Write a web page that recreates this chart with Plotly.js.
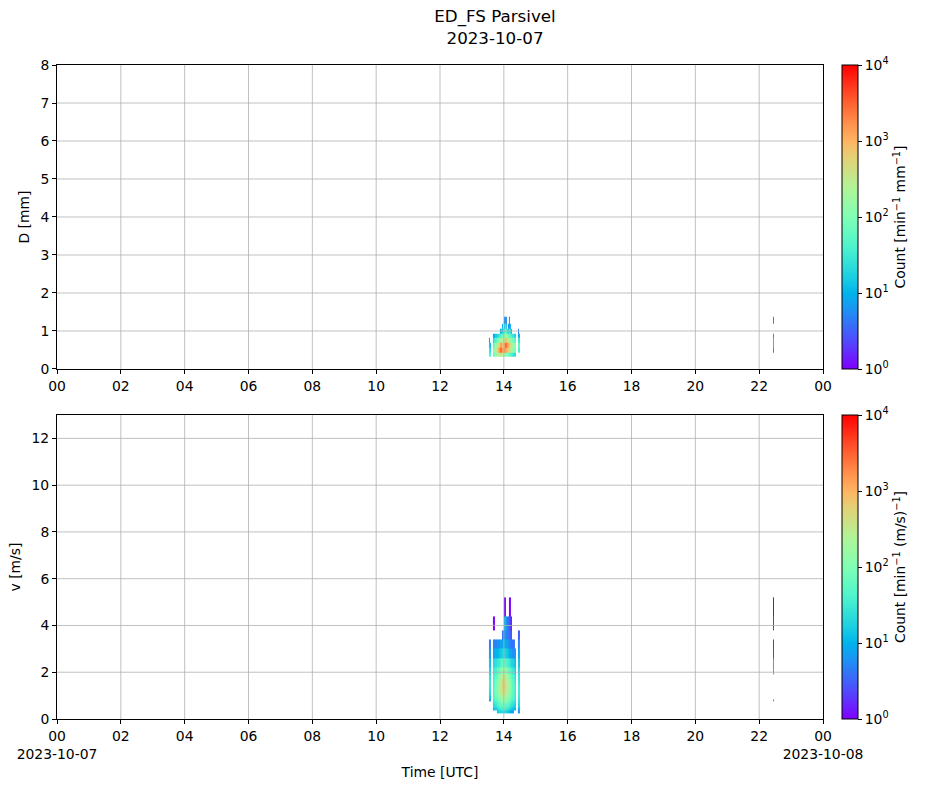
<!DOCTYPE html>
<html>
<head>
<meta charset="utf-8">
<script src="https://cdn.plot.ly/plotly-3.0.1.min.js"></script>
<style>html,body{margin:0;padding:0;background:#fff;}#chart{width:927px;height:788px;}</style>
</head>
<body>
<div id="chart"></div>
<script>
// ---------- DATA ----------
// time column edges (minutes after 2023-10-07 00:00 UTC)
const TIME_EDGES_MIN = [810,812,814,816,818,820,822,824,826,828,830,832,834,836,838,840,842,844,846,848,850,852,854,856,858,860,862,864,866,868,870];
const SPIKE_EDGES_MIN = [1346,1348];
// drop-size / velocity class edges as drawn
const D_EDGES = [0.312,0.437,0.562,0.687,0.812,0.937,1.062,1.187,1.375];
const V_EDGES = [0.05,0.15,0.25,0.35,0.45,0.55,0.65,0.75,0.85,0.95,1.1,1.3,1.5,1.7,1.9,2.2,2.6,3.0,3.4,3.8,4.4,5.2];
// counts per time column [min^-1 mm^-1], one row per column, one value per D cell
const D_COUNTS = [
  [0,0,0,0,0,0,0,0],
  [50,30,15,6,0,0,0,0],
  [40,20,10,0,0,0,0,0],
  [0,0,0,0,0,0,0,0],
  [0,0,0,0,0,0,0,0],
  [60,100,50,20,8,0,0,0],
  [80,150,80,30,10,0,0,0],
  [150,300,150,50,15,0,0,0],
  [200,500,250,80,20,0,0,0],
  [250,800,400,100,25,0,0,0],
  [300,1500,600,150,30,0,0,0],
  [400,3000,1200,200,40,10,0,0],
  [300,2500,1500,300,60,15,0,0],
  [250,1500,800,250,80,20,8,0],
  [200,1200,600,200,60,20,0,0],
  [150,1500,1200,300,100,40,15,5],
  [150,1500,3000,800,200,60,30,8],
  [100,1200,2500,600,150,40,15,6],
  [100,800,1500,400,100,30,0,0],
  [80,600,1200,300,80,20,6,0],
  [60,400,700,200,60,30,10,5],
  [50,300,500,150,50,25,8,0],
  [40,200,300,100,40,10,0,0],
  [30,150,200,80,30,0,0,0],
  [25,100,150,60,20,0,0,0],
  [20,80,100,40,15,0,0,0],
  [0,0,0,0,0,0,0,0],
  [0,0,0,0,0,0,0,0],
  [0,40,60,30,8,5,0,0],
  [0,30,40,20,6,0,0,0]
];
const D_SPIKE = [0,6,15,15,6,0,0,6];
// counts per time column [min^-1 (m/s)^-1], one value per velocity cell
const V_COUNTS = [
  [0,0,0,0,0,0,0,0,0,0,0,0,0,0,0,0,0,0,0,0,0],
  [0,0,0,0,0,0,0,8,15,20,25,30,30,25,20,15,8,5,0,0,0],
  [0,0,0,0,0,0,0,6,10,15,20,25,25,20,15,10,6,4,0,0,0],
  [0,0,0,0,0,0,0,0,0,0,0,0,0,0,0,0,0,0,0,0,0],
  [0,0,0,0,0,0,0,0,0,0,0,0,0,0,0,0,0,0,0,0,0],
  [0,0,0,10,15,20,25,30,40,40,40,40,40,35,30,20,8,5,0,1,0],
  [0,0,0,12,20,25,30,40,50,60,60,60,50,40,30,20,8,5,0,1,0],
  [0,0,0,15,20,30,40,50,60,80,90,90,80,60,40,25,10,5,0,0,0],
  [0,0,15,20,30,40,50,60,80,100,120,120,100,80,50,30,10,6,0,0,0],
  [0,0,15,25,35,45,60,80,100,130,150,150,130,100,60,30,12,6,0,0,0],
  [0,0,20,30,40,50,70,90,120,150,200,200,180,130,70,35,12,6,0,0,0],
  [0,0,20,30,40,60,80,100,150,200,300,300,250,180,90,40,15,8,0,0,0],
  [0,0,20,35,45,60,90,120,180,250,400,450,400,250,120,50,15,8,0,0,0],
  [0,0,20,35,50,70,100,140,200,300,450,500,450,300,150,60,18,8,4,0,0],
  [0,0,20,35,50,70,100,140,200,300,450,550,500,350,150,60,18,8,4,0,0],
  [0,0,20,35,50,70,100,150,220,300,450,550,500,350,150,60,20,10,6,10,1],
  [0,0,20,30,50,70,100,140,200,280,400,450,400,300,130,50,18,10,6,12,1],
  [0,0,18,30,45,60,90,120,160,220,300,350,300,220,100,45,15,8,5,6,0],
  [0,0,15,25,40,55,80,100,140,180,250,280,250,180,90,40,15,8,5,5,0],
  [0,0,15,25,35,50,70,90,120,150,200,220,200,150,80,35,12,6,4,4,0],
  [0,0,12,20,30,40,60,80,100,120,150,180,160,120,60,30,10,6,4,3,1],
  [0,0,10,18,25,35,50,60,80,100,120,130,120,90,50,25,8,5,3,2,1],
  [0,0,8,15,20,30,40,50,60,70,80,90,80,60,40,20,8,4,2,1,0],
  [0,0,8,12,18,25,30,40,50,55,60,60,55,45,30,18,6,4,0,0,0],
  [0,0,0,10,15,20,25,30,35,40,45,45,40,35,25,15,6,4,0,0,0],
  [0,0,0,8,12,15,20,25,30,30,30,30,25,20,15,10,5,0,0,0,0],
  [0,0,0,0,0,0,0,0,0,0,0,0,0,0,0,0,0,0,0,0,0],
  [0,0,0,0,0,0,0,0,0,0,0,0,0,0,0,0,0,0,0,0,0],
  [0,0,6,10,15,18,20,25,30,30,35,35,30,25,20,15,8,5,3,0,0],
  [0,0,5,8,12,15,18,20,20,25,25,25,20,20,15,10,6,4,2,0,0]
];
const V_SPIKE = [0,0,0,0,0,0,0,10,0,0,0,0,0,0,12,12,2,1.5,0,2,1];
// tick labels
const X_TICK_HOURS = [0,2,4,6,8,10,12,14,16,18,20,22,24];
const X_TICK_TEXT = ["00","02","04","06","08","10","12","14","16","18","20","22","00"];
const X_TICK_TEXT_BOTTOM = ["00<br>2023-10-07","02","04","06","08","10","12","14","16","18","20","22","00<br>2023-10-08"];
const D_TICKS = [0,1,2,3,4,5,6,7,8];
const V_TICKS = [0,2,4,6,8,10,12];
const CB_TICKS = [0,1,2,3,4];
const CB_TICK_TEXT = ["10<sup>0</sup>","10<sup>1</sup>","10<sup>2</sup>","10<sup>3</sup>","10<sup>4</sup>"];

// ---------- helpers ----------
const toHours = a => a.map(m => m/60);
function gridZ(cols){ // cols: [time][bin] -> z: [bin][time], log10, null for empty
  const nb = cols[0].length, z = [];
  for (let b=0;b<nb;b++){ z.push(cols.map(c => c[b] > 0 ? Math.log10(c[b]) : null)); }
  return z;
}
// matplotlib "rainbow"
const RAINBOW = [
  [0,'rgb(128,0,255)'],[0.1,'rgb(77,79,252)'],[0.2,'rgb(26,150,243)'],[0.25,'rgb(0,180,236)'],
  [0.3,'rgb(26,206,227)'],[0.4,'rgb(77,243,206)'],[0.5,'rgb(128,255,180)'],[0.6,'rgb(179,243,150)'],
  [0.7,'rgb(230,206,116)'],[0.75,'rgb(255,180,98)'],[0.8,'rgb(255,150,79)'],[0.9,'rgb(255,79,40)'],[1,'rgb(255,0,0)']
];
const FONT = {family:'DejaVu Sans, sans-serif', size:13.9, color:'#000'};

const traces = [
  {type:'heatmap', x:toHours(TIME_EDGES_MIN), y:D_EDGES, z:gridZ(D_COUNTS), coloraxis:'coloraxis', xaxis:'x', yaxis:'y', hoverongaps:false},
  {type:'heatmap', x:toHours(SPIKE_EDGES_MIN), y:D_EDGES, z:gridZ([D_SPIKE]), coloraxis:'coloraxis', xaxis:'x', yaxis:'y', hoverongaps:false},
  {type:'heatmap', x:toHours(TIME_EDGES_MIN), y:V_EDGES, z:gridZ(V_COUNTS), coloraxis:'coloraxis2', xaxis:'x2', yaxis:'y2', hoverongaps:false},
  {type:'heatmap', x:toHours(SPIKE_EDGES_MIN), y:V_EDGES, z:gridZ([V_SPIKE]), coloraxis:'coloraxis2', xaxis:'x2', yaxis:'y2', hoverongaps:false}
];

const axisCommon = {showline:true, mirror:true, linecolor:'#000', linewidth:1, ticks:'outside', ticklen:4, tickcolor:'#000', tickwidth:1, showgrid:false, zeroline:false, tickfont:FONT, layer:'above traces'};
const TOP_DOM = [0.5352,1], BOT_DOM = [0,0.4648];

function cb(title, yy, anchor){
  return {x:1.0248, xanchor:'left', xpad:0, ypad:0, y:yy, yanchor:anchor, len:0.4648, lenmode:'fraction', thickness:16,
    outlinewidth:1, outlinecolor:'#000', ticks:'outside', ticklen:4, tickcolor:'#000',
    tickvals:CB_TICKS, ticktext:CB_TICK_TEXT, tickfont:FONT,
    title:{text:title, side:'right', font:FONT}};
}

// grid lines drawn above the data (as in the reference)
const shapes = [];
const gl = {color:'#b0b0b0', width:0.8};
X_TICK_HOURS.slice(1,-1).forEach(h => {
  shapes.push({type:'line', xref:'x', yref:'y domain', x0:h, x1:h, y0:0, y1:1, line:gl, layer:'above'});
  shapes.push({type:'line', xref:'x2', yref:'y2 domain', x0:h, x1:h, y0:0, y1:1, line:gl, layer:'above'});
});
D_TICKS.slice(1,-1).forEach(v => shapes.push({type:'line', xref:'x domain', yref:'y', x0:0, x1:1, y0:v, y1:v, line:gl, layer:'above'}));
V_TICKS.slice(1).forEach(v => shapes.push({type:'line', xref:'x2 domain', yref:'y2', x0:0, x1:1, y0:v, y1:v, line:gl, layer:'above'}));

const layout = {
  width:927, height:788, paper_bgcolor:'#fff', plot_bgcolor:'#fff', font:FONT, showlegend:false,
  margin:{l:57, r:104, t:65, b:69},
  title:{text:'ED_FS Parsivel<br>2023-10-07', x:0.534, xanchor:'center', xref:'container', y:0.972, yanchor:'top', yref:'container', font:{family:FONT.family, size:16.7, color:'#000'}},
  xaxis:Object.assign({}, axisCommon, {domain:[0,1], anchor:'y', range:[0,24], tickvals:X_TICK_HOURS, ticktext:X_TICK_TEXT}),
  yaxis:Object.assign({}, axisCommon, {domain:TOP_DOM, anchor:'x', range:[0,8], tickvals:D_TICKS, title:{text:'D [mm]', font:FONT, standoff:7}}),
  xaxis2:Object.assign({}, axisCommon, {domain:[0,1], anchor:'y2', range:[0,24], tickvals:X_TICK_HOURS, ticktext:X_TICK_TEXT_BOTTOM, title:{text:'Time [UTC]', font:FONT, standoff:6}}),
  yaxis2:Object.assign({}, axisCommon, {domain:BOT_DOM, anchor:'x2', range:[0,13], tickvals:V_TICKS, title:{text:'v [m/s]', font:FONT, standoff:7}}),
  coloraxis:{colorscale:RAINBOW, cmin:0, cmax:4, colorbar:cb('Count [min<sup>−1</sup> mm<sup>−1</sup>]', 1, 'top')},
  coloraxis2:{colorscale:RAINBOW, cmin:0, cmax:4, colorbar:cb('Count [min<sup>−1</sup> (m/s)<sup>−1</sup>]', 0, 'bottom')},
  shapes:shapes
};
Plotly.newPlot('chart', traces, layout, {displayModeBar:false, staticPlot:true});
</script>
</body>
</html>
